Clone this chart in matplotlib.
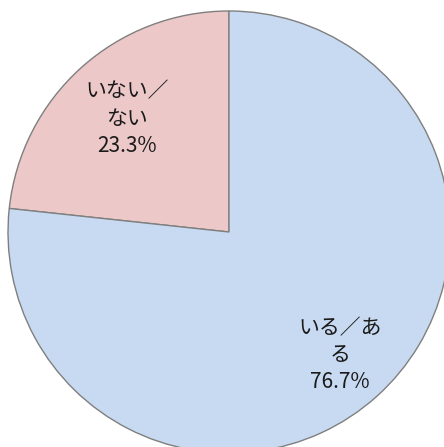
import numpy as np
import matplotlib.pyplot as plt

plt.rcParams['font.family'] = ['Noto Sans CJK JP', 'DejaVu Sans']

# data
labels = ['いない／\nない', 'いる／あ\nる']
values = [23.3, 76.7]
colors = ['#ecc8c8', '#c8daf1']
label_dist = [0.69, 0.75]

W, H = 444, 447
fig = plt.figure(figsize=(W / 100, H / 100), dpi=100)
ax = fig.add_axes([0, 0, 1, 1])

cx, cy, r = 229, H - 232, 221
wedges, _ = ax.pie(values, colors=colors, startangle=90, counterclock=True,
                   center=(cx, cy), radius=r,
                   wedgeprops=dict(edgecolor='#7f7f7f', linewidth=1.0))

# labels inside the slices
for w, lab, v, d in zip(wedges, labels, values, label_dist):
    ang = np.deg2rad((w.theta1 + w.theta2) / 2)
    x = cx + d * r * np.cos(ang)
    y = cy + d * r * np.sin(ang)
    ax.text(x, y, f'{lab}\n{v:.1f}%', ha='center', va='center',
            fontsize=15, color='#1a1a1a', linespacing=1.3)

ax.set_xlim(0, W)
ax.set_ylim(0, H)
ax.set_aspect('equal')
ax.axis('off')

fig.savefig('out.png', dpi=100)
